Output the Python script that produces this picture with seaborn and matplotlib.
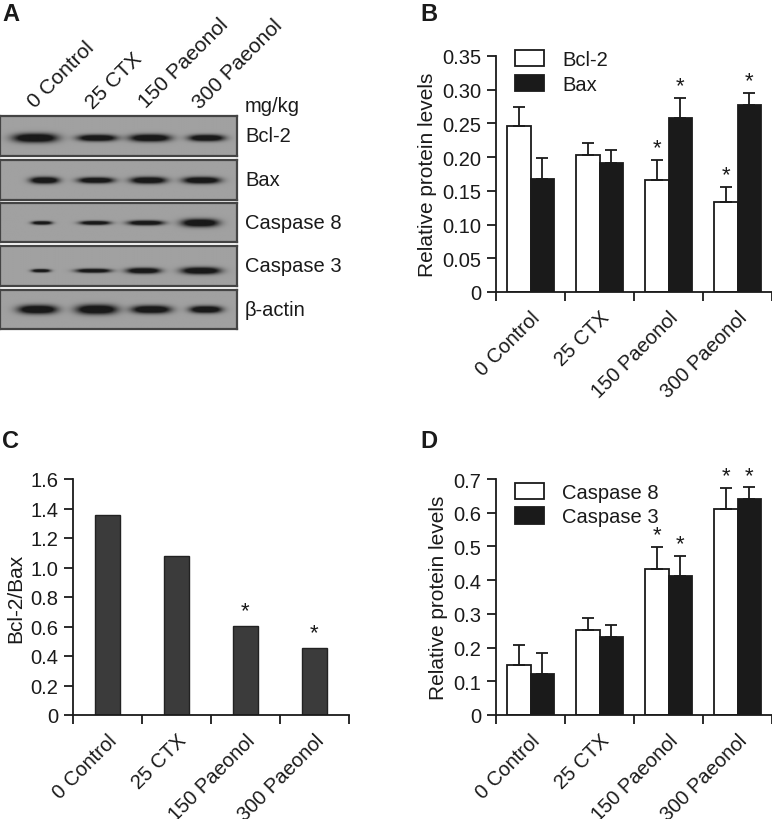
import numpy as np
import pandas as pd
import matplotlib
matplotlib.use('Agg')
import matplotlib.pyplot as plt
import seaborn as sns

groups = ['0 Control', '25 CTX', '150 Paeonol', '300 Paeonol']

# panel B: Bcl-2 / Bax
bcl2_mean = [0.246, 0.203, 0.166, 0.134]
bcl2_err = [0.028, 0.018, 0.030, 0.021]
bcl2_sig = [False, False, True, True]
bax_mean = [0.168, 0.191, 0.258, 0.277]
bax_err = [0.030, 0.019, 0.029, 0.018]
bax_sig = [False, False, True, True]

# panel C: ratio
ratio = [1.357, 1.075, 0.606, 0.455]
ratio_sig = [False, False, True, True]

# panel D: caspases
casp8_mean = [0.149, 0.252, 0.433, 0.611]
casp8_err = [0.059, 0.037, 0.065, 0.062]
casp8_sig = [False, False, True, True]
casp3_mean = [0.123, 0.230, 0.411, 0.640]
casp3_err = [0.060, 0.037, 0.061, 0.035]
casp3_sig = [False, False, True, True]

# panel A: western blot bands (x in 0-100 across strip, y in 0-1)
blot_rows = ['Bcl-2', 'Bax', 'Caspase 8', 'Caspase 3', 'β-actin']
band_x = [[14.8, 41.0, 63.4, 87.3],
          [18.7, 40.5, 62.7, 85.2],
          [17.6, 40.1, 61.6, 84.5],
          [17.2, 39.4, 60.6, 84.9],
          [15.8, 40.8, 63.9, 87.0]]
band_halfwidth = [[9.2, 8.1, 8.5, 7.4],
                  [6.0, 7.4, 7.4, 7.7],
                  [4.2, 6.3, 7.4, 7.7],
                  [3.9, 7.2, 7.0, 8.1],
                  [8.1, 8.5, 8.1, 6.7]]
band_thick = [[0.11, 0.08, 0.09, 0.08],
              [0.08, 0.07, 0.08, 0.08],
              [0.045, 0.05, 0.06, 0.10],
              [0.04, 0.05, 0.07, 0.085],
              [0.11, 0.12, 0.10, 0.09]]
band_y = [0.45, 0.48, 0.49, 0.38, 0.50]

W, H = 772, 820


def frac(x0, y0, x1, y1):
    # pixel box -> figure fraction rect
    return [x0 / W, 1 - y1 / H, (x1 - x0) / W, (y1 - y0) / H]


sns.set_style('ticks')
plt.rcParams['font.family'] = ['Liberation Sans', 'DejaVu Sans']
plt.rcParams['text.color'] = '#1a1a1a'
plt.rcParams['axes.labelcolor'] = '#1a1a1a'
plt.rcParams['xtick.color'] = '#1a1a1a'
plt.rcParams['ytick.color'] = '#1a1a1a'

FS = 14.5

fig = plt.figure(figsize=(W / 100, H / 100), dpi=100)

# ---- panel A ----
strip_px = [(117, 157), (161, 201), (204, 243), (247, 287), (291, 330)]
xs = np.linspace(0, 100, 300)
ys = np.linspace(0, 1, 60)
XX, YY = np.meshgrid(xs, ys)
for r, (top, bot) in enumerate(strip_px):
    ax = fig.add_axes(frac(0, top, 237, bot))
    dens = np.zeros_like(XX)
    for c, hw, th in zip(band_x[r], band_halfwidth[r], band_thick[r]):
        dens += np.exp(-np.abs((XX - c) / hw) ** 3) * np.exp(-((YY - band_y[r]) / th) ** 2)
    img = 0.63 - 0.53 * np.clip(dens * 1.6, 0, 1)
    ax.imshow(img, cmap='gray', vmin=0, vmax=1, extent=[0, 100, 0, 1],
              origin='lower', aspect='auto', interpolation='bilinear')
    ax.set_xticks([])
    ax.set_yticks([])
    for s in ax.spines.values():
        s.set_color('#444444')
        s.set_linewidth(1.6)
    fig.text(245 / W, 1 - (top + bot) / 2 / H, blot_rows[r], fontsize=FS,
             va='center', ha='left')

fig.text(245 / W, 1 - 107 / H, 'mg/kg', fontsize=FS, va='center', ha='left')
lane_label_px = [(35, 109), (93, 110), (146, 109), (200, 110)]
for g, (lx, ly) in zip(groups, lane_label_px):
    fig.text(lx / W, 1 - ly / H, g, fontsize=FS + 0.5, rotation=45,
             rotation_mode='anchor', ha='left', va='baseline')


def style_axes(ax, ymax, yticks, ylabels, ylabel):
    ax.set_ylim(0, ymax)
    ax.set_xlim(-0.5, 3.5)
    ax.set_yticks(yticks)
    ax.set_yticklabels(ylabels, fontsize=FS)
    ax.set_xticks(range(4))
    ax.set_xticklabels(groups, fontsize=FS, rotation=45, ha='right',
                       rotation_mode='anchor')
    ax.set_xticks(np.arange(-0.5, 4, 1), minor=True)
    ax.tick_params(axis='x', which='major', length=0, pad=11)
    ax.tick_params(axis='x', which='minor', length=6.5, width=1.3, direction='out')
    ax.tick_params(axis='y', length=6.5, width=1.3, direction='out', pad=4)
    ax.set_xlabel('')
    ax.set_ylabel(ylabel, fontsize=FS + 0.5, labelpad=4)
    sns.despine(ax=ax)
    for s in ['left', 'bottom']:
        ax.spines[s].set_linewidth(1.3)
        ax.spines[s].set_color('#1a1a1a')


def add_errors(ax, container, means, errs, sig, star_gap):
    xs_ = [p.get_x() + p.get_width() / 2 for p in container]
    ax.errorbar(xs_, means, yerr=[np.zeros(len(errs)), errs], fmt='none',
                ecolor='#1a1a1a', elinewidth=1.3, capsize=4, capthick=1.3)
    for x, m, e, s in zip(xs_, means, errs, sig):
        if s:
            ax.text(x, m + e + star_gap, '*', ha='center', va='bottom', fontsize=16)


def paired_panel(rect, name1, mean1, err1, sig1, name2, mean2, err2, sig2,
                 ymax, yticks, ylabels, star_gap, legend_y):
    ax = fig.add_axes(rect)
    df = pd.DataFrame({
        'group': groups * 2,
        'series': [name1] * 4 + [name2] * 4,
        'value': list(mean1) + list(mean2),
    })
    sns.barplot(data=df, x='group', y='value', hue='series', order=groups,
                hue_order=[name1, name2], palette=['white', '#1a1a1a'],
                edgecolor='#1a1a1a', linewidth=1.3, width=0.68,
                errorbar=None, ax=ax)
    add_errors(ax, ax.containers[0], mean1, err1, sig1, star_gap)
    add_errors(ax, ax.containers[1], mean2, err2, sig2, star_gap)
    style_axes(ax, ymax, yticks, ylabels, 'Relative protein levels')
    leg = ax.legend(loc='upper left', bbox_to_anchor=(0.04, legend_y), frameon=False,
                    fontsize=FS, handlelength=1.45, handleheight=0.85,
                    handletextpad=0.9, labelspacing=0.28, borderaxespad=0)
    for h in leg.legend_handles:
        h.set_edgecolor('#1a1a1a')
        h.set_linewidth(1.3)
    return ax


# ---- panel B ----
b_ticks = np.arange(0, 0.351, 0.05)
paired_panel(frac(496, 57, 772, 293), 'Bcl-2', bcl2_mean, bcl2_err, bcl2_sig,
             'Bax', bax_mean, bax_err, bax_sig, 0.35, b_ticks,
             ['0'] + ['%.2f' % t for t in b_ticks[1:]], 0.003, 1.058)

# ---- panel D ----
d_ticks = np.arange(0, 0.71, 0.1)
paired_panel(frac(496, 480, 772, 716), 'Caspase 8', casp8_mean, casp8_err, casp8_sig,
             'Caspase 3', casp3_mean, casp3_err, casp3_sig, 0.7, d_ticks,
             ['0'] + ['%.1f' % t for t in d_ticks[1:]], 0.005, 1.018)

# ---- panel C ----
axc = fig.add_axes(frac(73, 480, 349, 716))
dfc = pd.DataFrame({'group': groups, 'ratio': ratio})
sns.barplot(data=dfc, x='group', y='ratio', order=groups, color='#3b3b3b',
            edgecolor='#222222', linewidth=1.0, width=0.35, errorbar=None,
            saturation=1, ax=axc)
for p, v, s in zip(axc.containers[0], ratio, ratio_sig):
    if s:
        axc.text(p.get_x() + p.get_width() / 2, v + 0.03, '*', ha='center',
                 va='bottom', fontsize=16)
c_ticks = np.arange(0, 1.61, 0.2)
style_axes(axc, 1.6, c_ticks, ['0'] + ['%.1f' % t for t in c_ticks[1:]], 'Bcl-2/Bax')

# panel letters
for letter, (lx, ly) in zip('ABCD', [(2, 3), (420, 3), (2, 430), (420, 430)]):
    fig.text(lx / W, 1 - ly / H, letter, fontsize=17, fontweight='bold',
             ha='left', va='top')

fig.savefig('out.png', dpi=100)
